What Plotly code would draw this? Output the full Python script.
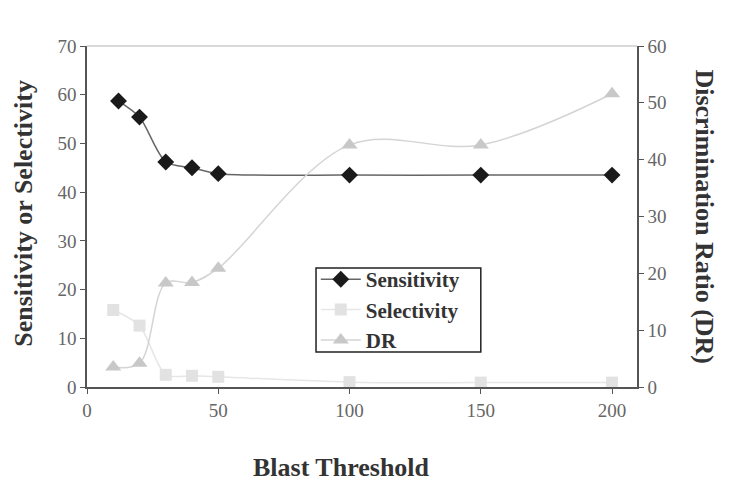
import plotly.graph_objects as go

sens_x = [12, 20, 30, 40, 50, 100, 150, 200]
sens_y = [58.7, 55.4, 46.2, 45.0, 43.8, 43.5, 43.5, 43.5]
sel_x = [10, 20, 30, 40, 50, 100, 150, 200]
sel_y = [15.8, 12.6, 2.5, 2.3, 2.1, 1.0, 0.9, 0.9]
dr_x = [10, 20, 30, 40, 50, 100, 150, 200]
dr_y = [3.5, 4.2, 18.3, 18.4, 20.9, 42.6, 42.6, 51.6]

x_ticks = [0, 50, 100, 150, 200]
left_ticks = [0, 10, 20, 30, 40, 50, 60, 70]
right_ticks = [0, 10, 20, 30, 40, 50, 60]

serif = "Liberation Serif"
fig = go.Figure()
fig.add_trace(go.Scatter(
    x=sel_x, y=sel_y, name="<b>Selectivity</b>", mode="lines+markers",
    line=dict(color="#e6e6e6", width=1.5, shape="spline", smoothing=0.8),
    marker=dict(symbol="square", size=12, color="#e2e2e2"), legendrank=2))
fig.add_trace(go.Scatter(
    x=dr_x, y=dr_y, name="<b>DR</b>", mode="lines+markers", yaxis="y2",
    line=dict(color="#d4d4d4", width=1.5, shape="spline", smoothing=1.0),
    marker=dict(symbol="triangle-up", size=14, color="#c8c8c8"), legendrank=3))
fig.add_trace(go.Scatter(
    x=sens_x, y=sens_y, name="<b>Sensitivity</b>", mode="lines+markers",
    line=dict(color="#666666", width=1.5, shape="spline", smoothing=0.8),
    marker=dict(symbol="diamond", size=13, color="#1a1a1a"), legendrank=1))

axis_common = dict(showgrid=False, zeroline=False, showline=True, linecolor="#555555",
                   linewidth=1.5, ticks="outside", ticklen=5, tickcolor="#555555",
                   tickfont=dict(family=serif, size=19, color="#666666"))

fig.update_layout(
    width=729, height=494,
    margin=dict(l=79, r=100, t=38, b=115, autoexpand=False),
    paper_bgcolor="white", plot_bgcolor="white",
    xaxis=dict(range=[0, 209.5], tickvals=x_ticks, **axis_common),
    yaxis=dict(range=[0, 70], tickvals=left_ticks, **axis_common),
    yaxis2=dict(range=[0, 60], tickvals=right_ticks, overlaying="y", side="right", **axis_common),
    legend=dict(x=0.416, y=0.375, xanchor="left", yanchor="top",
                bgcolor="rgba(0,0,0,0)", borderwidth=0,
                font=dict(family=serif, size=21, color="#333333"),
                tracegroupgap=0, itemwidth=40),
    showlegend=True,
    annotations=[
        dict(text="<b>Blast Threshold</b>", x=0.462, y=-0.235, xref="paper", yref="paper",
             xanchor="center", yanchor="middle",
             showarrow=False, font=dict(family=serif, size=26, color="#333333")),
        dict(text="<b>Sensitivity or Selectivity</b>", x=-0.117, y=0.51, xref="paper", yref="paper",
             xanchor="center", yanchor="middle",
             textangle=-90, showarrow=False, font=dict(family=serif, size=26, color="#333333")),
        dict(text="<b>Discrimination Ratio (DR)</b>", x=1.122, y=0.5, xref="paper", yref="paper",
             xanchor="center", yanchor="middle",
             textangle=90, showarrow=False, font=dict(family=serif, size=26, color="#333333")),
    ],
    shapes=[
        dict(type="line", xref="paper", yref="paper", x0=0, x1=1, y0=1, y1=1,
             line=dict(color="#cccccc", width=1.5)),
        dict(type="rect", xref="paper", yref="paper", x0=0.4164, x1=0.716, y0=0.103, y1=0.349,
             line=dict(color="#222222", width=1.5), fillcolor="white", layer="below"),
    ],
)

fig.write_html("out.html")
